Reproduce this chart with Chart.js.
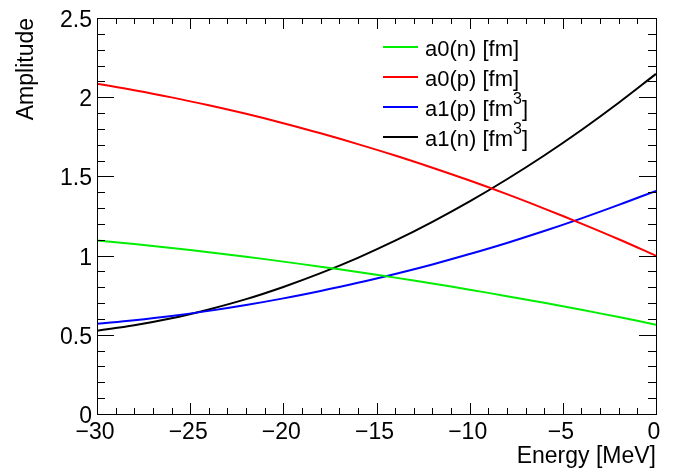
<!DOCTYPE html>
<html>
<head>
<meta charset="utf-8">
<script src="https://cdn.jsdelivr.net/npm/chart.js@4/dist/chart.umd.min.js"></script>
<style>
  html, body { margin: 0; padding: 0; background: #fff; }
  #wrap { width: 692px; height: 468px; }
</style>
</head>
<body>
<div id="wrap"><canvas id="c" width="692" height="468"></canvas></div>
<script>
// ---- data ----
const energy   = [-30, -28, -26, -24, -22, -20, -18, -16, -14, -12, -10, -8, -6, -4, -2, 0];
const a0n = [1.096, 1.073, 1.048, 1.021, 0.993, 0.962, 0.930, 0.897, 0.861, 0.824, 0.785, 0.744, 0.702, 0.658, 0.612, 0.564];
const a0p = [2.085, 2.044, 1.999, 1.949, 1.895, 1.836, 1.772, 1.704, 1.632, 1.555, 1.474, 1.388, 1.297, 1.202, 1.103, 0.999];
const a1p = [0.569, 0.592, 0.619, 0.651, 0.688, 0.730, 0.777, 0.828, 0.884, 0.944, 1.010, 1.080, 1.155, 1.235, 1.320, 1.409];
const a1n = [0.526, 0.560, 0.604, 0.660, 0.725, 0.802, 0.889, 0.986, 1.094, 1.213, 1.342, 1.482, 1.632, 1.793, 1.965, 2.147];
const seriesLabels = ['a0(n) [fm]', 'a0(p) [fm]', 'a1(p) [fm³]', 'a1(n) [fm³]'];
const xTickValues = [-30, -25, -20, -15, -10, -5, 0];
const xTickLabels = ['\u221230', '\u221225', '\u221220', '\u221215', '\u221210', '\u22125', '0'];
const yTickValues = [0, 0.5, 1, 1.5, 2, 2.5];
const yTickLabels = ['0', '0.5', '1', '1.5', '2', '2.5'];
const xTitle = 'Energy [MeV]';
const yTitle = 'Amplitude';

const FONT = '"Liberation Sans", Arial, Helvetica, sans-serif';
const toXY = arr => arr.map((v, i) => ({ x: energy[i], y: v }));
const mk = (label, arr, color) => ({
  label, data: toXY(arr), borderColor: color, backgroundColor: color,
  borderWidth: 2, pointRadius: 0, tension: 0.4, fill: false
});

// draw text, rendering "³" as a raised smaller "3"
function drawRich(ctx, text, x, y, size) {
  const parts = text.split('³');
  let cx = x;
  parts.forEach((p, i) => {
    ctx.font = size + 'px ' + FONT;
    ctx.fillText(p, cx, y);
    cx += ctx.measureText(p).width;
    if (i < parts.length - 1) {
      ctx.font = Math.round(size * 0.72) + 'px ' + FONT;
      ctx.fillText('3', cx, y - 12);
      cx += ctx.measureText('3').width;
    }
  });
}

const rootAxes = {
  id: 'rootAxes',
  afterDraw(chart) {
    const ctx = chart.ctx, xs = chart.scales.x, ys = chart.scales.y, a = chart.chartArea;
    ctx.save();
    ctx.strokeStyle = '#000';
    ctx.lineWidth = 1;
    // frame
    ctx.strokeRect(Math.round(a.left) + 0.5, Math.round(a.top) + 0.5,
                   Math.round(a.right - a.left), Math.round(a.bottom - a.top));
    ctx.beginPath();
    // x ticks (bottom & top)
    for (let v = -30; v <= 0; v += 1) {
      const px = Math.round(xs.getPixelForValue(v)) + 0.5;
      const len = (v % 5 === 0) ? 11 : 6;
      ctx.moveTo(px, a.bottom); ctx.lineTo(px, a.bottom - len);
      ctx.moveTo(px, a.top); ctx.lineTo(px, a.top + len);
    }
    // y ticks (left & right)
    for (let k = 0; k <= 25; k++) {
      const v = k / 10;
      const py = Math.round(ys.getPixelForValue(v)) + 0.5;
      const len = (k % 5 === 0) ? 17 : 8;
      ctx.moveTo(a.left, py); ctx.lineTo(a.left + len, py);
      ctx.moveTo(a.right, py); ctx.lineTo(a.right - len, py);
    }
    ctx.stroke();

    ctx.fillStyle = '#000';
    ctx.font = '23px ' + FONT;
    // x tick labels
    ctx.textAlign = 'center'; ctx.textBaseline = 'alphabetic';
    xTickValues.forEach((v, i) => {
      ctx.fillText(xTickLabels[i], xs.getPixelForValue(v) - 2, 439);
    });
    // y tick labels
    ctx.textAlign = 'right';
    yTickValues.forEach((v, i) => {
      ctx.fillText(yTickLabels[i], 92, ys.getPixelForValue(v) + 9);
    });
    // axis titles
    ctx.textAlign = 'right';
    ctx.fillText(xTitle, a.right, 463);
    ctx.save();
    ctx.translate(33, a.top);
    ctx.rotate(-Math.PI / 2);
    ctx.textAlign = 'right';
    ctx.fillText(yTitle, 0, 0);
    ctx.restore();

    // legend
    ctx.textAlign = 'left'; ctx.textBaseline = 'alphabetic';
    const rows = [47, 77, 107, 137];
    chart.data.datasets.forEach((ds, i) => {
      const y = rows[i];
      ctx.strokeStyle = ds.borderColor;
      ctx.lineWidth = 2;
      ctx.beginPath();
      ctx.moveTo(383, y); ctx.lineTo(418, y);
      ctx.stroke();
      ctx.fillStyle = '#000';
      drawRich(ctx, ds.label, 425, y + 9, 22);
    });
    ctx.restore();
  }
};

new Chart(document.getElementById('c'), {
  type: 'line',
  data: {
    datasets: [
      mk(seriesLabels[0], a0n, '#00ee00'),
      mk(seriesLabels[1], a0p, '#ff0000'),
      mk(seriesLabels[2], a1p, '#0000ff'),
      mk(seriesLabels[3], a1n, '#000000')
    ]
  },
  options: {
    responsive: false,
    animation: false,
    devicePixelRatio: 1,
    layout: { padding: { left: 97, right: 36, top: 18, bottom: 54 } },
    plugins: { legend: { display: false }, tooltip: { enabled: false } },
    scales: {
      x: { type: 'linear', min: -30, max: 0, display: false },
      y: { type: 'linear', min: 0, max: 2.5, display: false }
    }
  },
  plugins: [rootAxes]
});
</script>
</body>
</html>
